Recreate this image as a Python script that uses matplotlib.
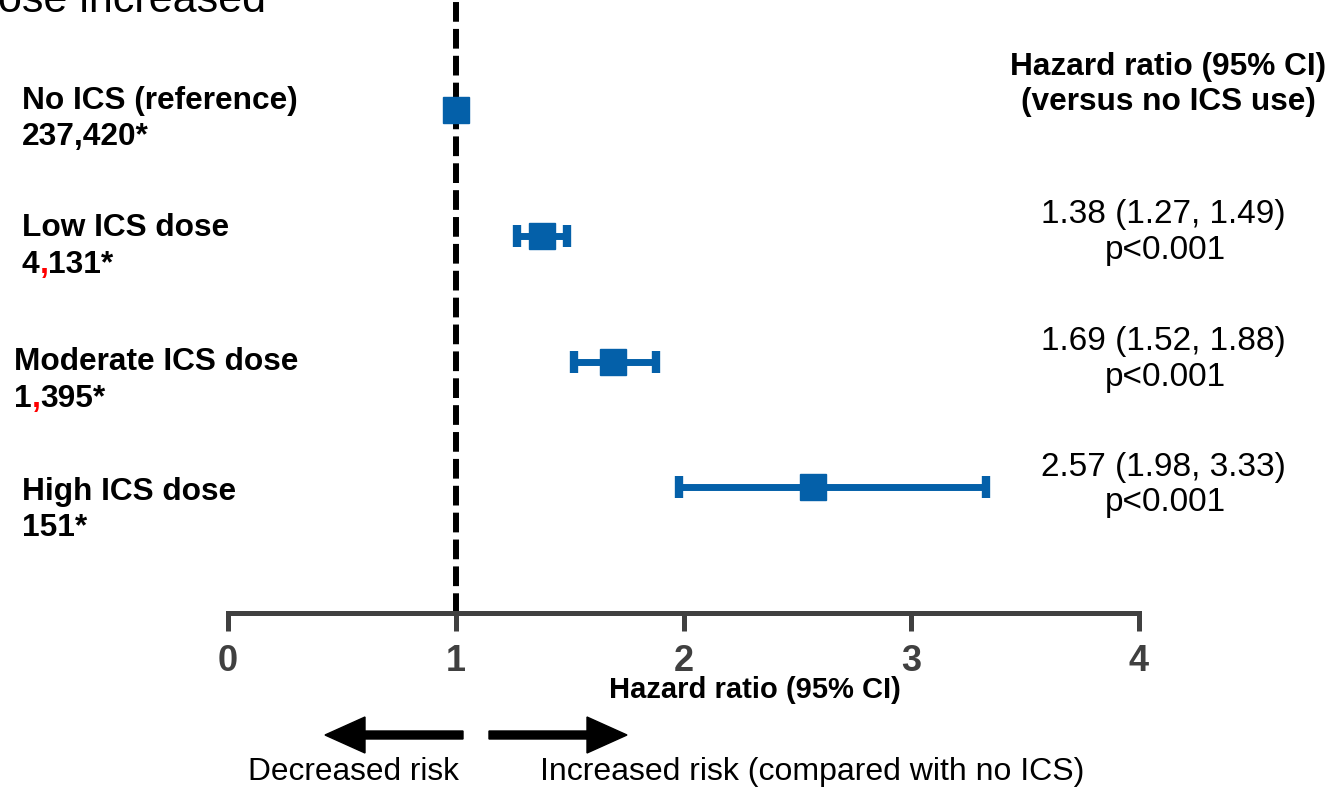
import numpy as np
import matplotlib
matplotlib.use("Agg")
import matplotlib.pyplot as plt
from matplotlib.patches import FancyArrow
from matplotlib.transforms import IdentityTransform

plt.rcParams['font.family'] = ['Liberation Sans', 'DejaVu Sans']

# data
groups = ["No ICS (reference)", "Low ICS dose", "Moderate ICS dose", "High ICS dose"]
counts = [["237,420*"], ["4", ",", "131*"], ["1", ",", "395*"], ["151*"]]
hr = [1.00, 1.38, 1.69, 2.57]
ci_lo = [np.nan, 1.27, 1.52, 1.98]
ci_hi = [np.nan, 1.49, 1.88, 3.33]
hr_text = ["", "1.38 (1.27, 1.49)", "1.69 (1.52, 1.88)", "2.57 (1.98, 3.33)"]
p_text = ["", "p<0.001", "p<0.001", "p<0.001"]
xticks = [0, 1, 2, 3, 4]

BLUE = "#0460A9"
GREY = "#404040"
W, H = 1334, 789


def fx(px):
    return px / W


def fy(py):
    # py measured from the top
    return 1 - py / H


def main():
    fig = plt.figure(figsize=(W / 100, H / 100), dpi=100)
    ax = fig.add_axes([fx(228), fy(613), fx(1139 - 228), 613 / H])
    ax.set_xlim(0, 4)
    ax.set_ylim(0, 4.875)

    ypos = [4, 3, 2, 1]

    # reference line
    ax.axvline(1, color="black", lw=4.3, linestyle=(0, (3.3, 1.2)), zorder=1)

    # estimates
    for i in range(len(hr)):
        if np.isnan(ci_lo[i]):
            ax.plot(hr[i], ypos[i], marker="s", ms=19, color=BLUE, zorder=3, clip_on=False)
        else:
            ax.errorbar(hr[i], ypos[i],
                        xerr=[[hr[i] - ci_lo[i]], [ci_hi[i] - hr[i]]],
                        fmt="s", ms=19, color=BLUE, ecolor=BLUE,
                        elinewidth=5, capsize=8, capthick=6, zorder=3)

    # axis styling
    for s in ["top", "right", "left"]:
        ax.spines[s].set_visible(False)
    ax.spines["bottom"].set_color(GREY)
    ax.spines["bottom"].set_linewidth(3.6)
    ax.set_yticks([])
    ax.set_xticks(xticks)
    ax.set_xticklabels([str(t) for t in xticks], fontsize=26, fontweight="bold", color=GREY)
    ax.tick_params(axis="x", direction="out", length=13, width=3.6, color=GREY, pad=9)

    fig.text(fx(755), fy(690), "Hazard ratio (95% CI)", fontsize=21, fontweight="bold",
             ha="center", va="center")

    # cut-off title at top left
    fig.text(fx(-2), fy(12), "ose increased", fontsize=31, ha="left", va="baseline")

    # left labels
    fig.canvas.draw()
    renderer = fig.canvas.get_renderer()
    name_y = [101, 228, 362, 492]
    count_y = [137, 265, 399, 528]
    left_x = [22, 22, 14, 22]
    for i in range(len(groups)):
        fig.text(fx(left_x[i]), fy(name_y[i]), groups[i], fontsize=22.8,
                 fontweight="bold", ha="left", va="center")
        x = left_x[i]
        for part in counts[i]:
            col = "red" if part == "," else "black"
            t = fig.text(fx(x), fy(count_y[i]), part, fontsize=22.8, fontweight="bold",
                         color=col, ha="left", va="center")
            x += t.get_window_extent(renderer).width

    # right column
    fig.text(fx(1168), fy(67), "Hazard ratio (95% CI)", fontsize=22.8, fontweight="bold",
             ha="center", va="center")
    fig.text(fx(1168), fy(102), "(versus no ICS use)", fontsize=22.8, fontweight="bold",
             ha="center", va="center")
    hr_y = [0, 215, 342, 468]
    for i in range(1, len(hr)):
        fig.text(fx(1163), fy(hr_y[i]), hr_text[i], fontsize=24, ha="center", va="center")
        fig.text(fx(1165), fy(hr_y[i] + 35), p_text[i], fontsize=24, ha="center", va="center")

    # direction arrows
    ay = H - 735
    for x0, x1 in [(463, 325), (489, 627)]:
        arr = FancyArrow(x0, ay, x1 - x0, 0, width=8, head_width=36, head_length=40,
                         length_includes_head=True, color="black",
                         transform=IdentityTransform())
        fig.patches.append(arr)

    fig.text(fx(353), fy(772), "Decreased risk", fontsize=22.8, ha="center", va="center")
    fig.text(fx(812), fy(772), "Increased risk (compared with no ICS)", fontsize=23,
             ha="center", va="center")

    fig.savefig("out.png", dpi=100)


if __name__ == "__main__":
    main()
